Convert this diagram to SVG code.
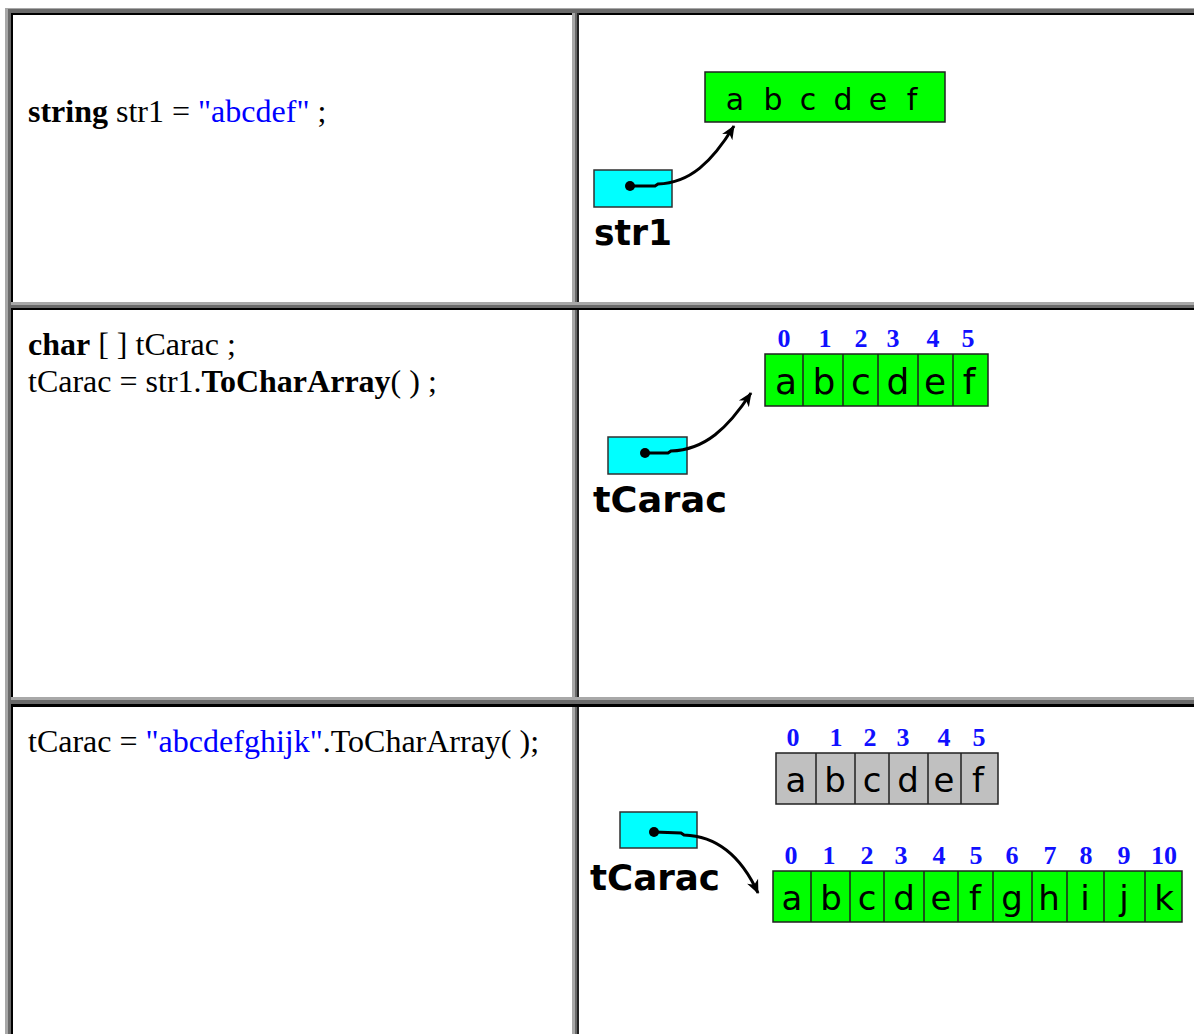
<svg xmlns="http://www.w3.org/2000/svg" width="1194" height="1034" viewBox="0 0 1194 1034">
<style>
.code{font-family:"Liberation Serif","Times New Roman",serif;font-size:32px;fill:#000}
.b{font-weight:bold}
.lit{fill:#0000ff}
.ptr{fill:#00ffff;stroke:#303030;stroke-width:1.5}
.arr{fill:#00ff00;stroke:#202020;stroke-width:1.5}
.old{fill:#c0c0c0;stroke:#202020;stroke-width:1.5}
.div{stroke:#202020;stroke-width:1.5}
.ch{font-family:"DejaVu Sans","Verdana",sans-serif;fill:#000;text-anchor:middle}
.idx{font-family:"Liberation Serif","Times New Roman",serif;font-weight:bold;font-size:26px;fill:#1010ff;text-anchor:middle}
.name{font-family:"DejaVu Sans","Verdana",sans-serif;font-weight:bold;fill:#000}
.link{fill:none;stroke:#000;stroke-width:3}
</style>
<defs>
<marker id="ah" markerUnits="userSpaceOnUse" markerWidth="16" markerHeight="14" refX="13" refY="7" orient="auto">
<path d="M0,1 L14,7 L0,13 L4,7 z" fill="#000"/>
</marker>
</defs>
<rect width="1194" height="1034" fill="#fff"/>
<g id="table">
<rect x="5" y="8" width="1189" height="1" fill="#a8a8a8"/>
<rect x="5" y="9" width="1189" height="4" fill="#6a6a6a"/>
<rect x="11" y="13" width="1183" height="2" fill="#000"/>
<rect x="5" y="8" width="3" height="1026" fill="#a8a8a8"/>
<rect x="8" y="9" width="3" height="1025" fill="#6a6a6a"/>
<rect x="11" y="13" width="2" height="1021" fill="#000"/>
<rect x="572" y="13" width="3" height="1021" fill="#a8a8a8"/>
<rect x="575" y="13" width="2" height="1021" fill="#6a6a6a"/>
<rect x="577" y="13" width="2" height="1021" fill="#222"/>
<rect x="11" y="302" width="1183" height="3" fill="#a8a8a8"/>
<rect x="11" y="305" width="1183" height="3" fill="#6a6a6a"/>
<rect x="11" y="308" width="1183" height="2" fill="#000"/>
<rect x="11" y="697" width="1183" height="3" fill="#a8a8a8"/>
<rect x="11" y="700" width="1183" height="4" fill="#6a6a6a"/>
<rect x="11" y="704" width="1183" height="3" fill="#000"/>
</g>
<g id="code1">
<text class="code" x="28" y="122"><tspan class="b">string</tspan> str1 = <tspan class="lit">"abcdef"</tspan> ;</text>
</g>
<g id="code2">
<text class="code" x="28" y="355"><tspan class="b">char</tspan> [ ] tCarac ;</text>
<text class="code" x="28" y="392">tCarac = str1.<tspan class="b">ToCharArray</tspan>( ) ;</text>
</g>
<g id="code3">
<text class="code" x="28" y="752">tCarac = <tspan class="lit">"abcdefghijk"</tspan>.ToCharArray( );</text>
</g>
<g id="str1-var">
<rect class="ptr" x="594" y="170" width="78" height="37"/>
<circle cx="630" cy="186" r="5" fill="#000"/>
<text class="name" x="594" y="245" font-size="36" textLength="78" lengthAdjust="spacingAndGlyphs">str1</text>
</g>
<g id="string-abcdef">
<rect class="arr" x="705" y="72" width="240" height="50"/>
<g class="ch" font-size="30">
<text x="735" y="110">a</text><text x="773" y="110">b</text><text x="808" y="110">c</text><text x="843" y="110">d</text><text x="878" y="110">e</text><text x="912" y="110">f</text>
</g>
</g>
<g id="tCarac-var-1">
<rect class="ptr" x="608" y="437" width="79" height="37"/>
<circle cx="645" cy="453" r="5" fill="#000"/>
<text class="name" x="593" y="512" font-size="36" textLength="134" lengthAdjust="spacingAndGlyphs">tCarac</text>
</g>
<g id="array-6">
<g class="idx">
<text x="784" y="347">0</text><text x="825" y="347">1</text><text x="861" y="347">2</text><text x="893" y="347">3</text><text x="933" y="347">4</text><text x="968" y="347">5</text>
</g>
<rect class="arr" x="765" y="354" width="223" height="52"/>
<path class="div" d="M803,354V406M843,354V406M878,354V406M918,354V406M953,354V406"/>
<g class="ch" font-size="36">
<text x="786" y="394">a</text><text x="824" y="394">b</text><text x="861" y="394">c</text><text x="898" y="394">d</text><text x="935" y="394">e</text><text x="969" y="394">f</text>
</g>
</g>
<g id="array-6-old">
<g class="idx">
<text x="793" y="746">0</text><text x="836" y="746">1</text><text x="870" y="746">2</text><text x="903" y="746">3</text><text x="944" y="746">4</text><text x="979" y="746">5</text>
</g>
<rect class="old" x="776" y="753" width="222" height="51"/>
<path class="div" d="M816,753V804M855,753V804M889,753V804M928,753V804M961,753V804"/>
<g class="ch" font-size="34">
<text x="796" y="792">a</text><text x="835" y="792">b</text><text x="872" y="792">c</text><text x="908" y="792">d</text><text x="944" y="792">e</text><text x="978" y="792">f</text>
</g>
</g>
<g id="tCarac-var-2">
<rect class="ptr" x="620" y="812" width="77" height="36"/>
<circle cx="654" cy="832" r="5" fill="#000"/>
<text class="name" x="590" y="890" font-size="35" textLength="130" lengthAdjust="spacingAndGlyphs">tCarac</text>
</g>
<g id="array-11">
<g class="idx">
<text x="791" y="864">0</text><text x="829" y="864">1</text><text x="867" y="864">2</text><text x="901" y="864">3</text><text x="939" y="864">4</text><text x="976" y="864">5</text><text x="1012" y="864">6</text><text x="1050" y="864">7</text><text x="1086" y="864">8</text><text x="1124" y="864">9</text><text x="1164" y="864">10</text>
</g>
<rect class="arr" x="773" y="871" width="409" height="51"/>
<path class="div" d="M811,871V922M850,871V922M884,871V922M924,871V922M958,871V922M993,871V922M1032,871V922M1067,871V922M1104,871V922M1145,871V922"/>
<g class="ch" font-size="34">
<text x="792" y="910">a</text><text x="831" y="910">b</text><text x="867" y="910">c</text><text x="904" y="910">d</text><text x="941" y="910">e</text><text x="975" y="910">f</text><text x="1012" y="910">g</text><text x="1049" y="910">h</text><text x="1085" y="910">i</text><text x="1124" y="910">j</text><text x="1164" y="910">k</text>
</g>
</g>
<g id="connectors">
<path class="link" d="M630,186 L655,186 L658,184 C690,183 712,162 734,126" marker-end="url(#ah)"/>
<path class="link" d="M645,453 L668,453 L671,451 C705,450 728,428 751,393" marker-end="url(#ah)"/>
<path class="link" d="M654,832 L681,833 L684,835 C718,836 742,858 758,893" marker-end="url(#ah)"/>
</g>
</svg>
